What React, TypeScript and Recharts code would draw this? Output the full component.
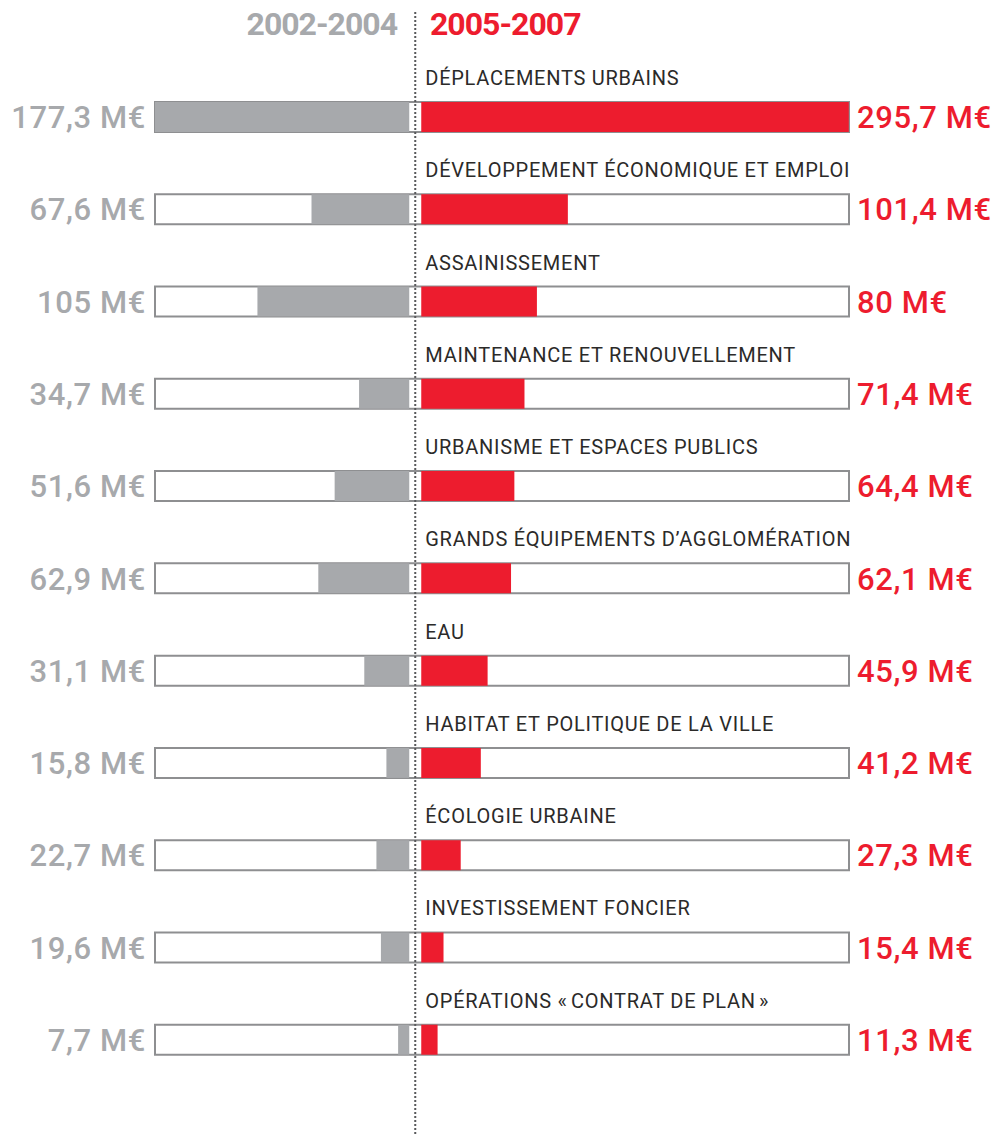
import { Bar, BarChart, LabelList, ReferenceLine, XAxis, YAxis } from "recharts";

const categories = [
  "DÉPLACEMENTS URBAINS",
  "DÉVELOPPEMENT ÉCONOMIQUE ET EMPLOI",
  "ASSAINISSEMENT",
  "MAINTENANCE ET RENOUVELLEMENT",
  "URBANISME ET ESPACES PUBLICS",
  "GRANDS ÉQUIPEMENTS D’AGGLOMÉRATION",
  "EAU",
  "HABITAT ET POLITIQUE DE LA VILLE",
  "ÉCOLOGIE URBAINE",
  "INVESTISSEMENT FONCIER",
  "OPÉRATIONS «\u202fCONTRAT DE PLAN\u202f»"
];

const values0204 = [177.3, 67.6, 105, 34.7, 51.6, 62.9, 31.1, 15.8, 22.7, 19.6, 7.7];
const values0507 = [295.7, 101.4, 80, 71.4, 64.4, 62.1, 45.9, 41.2, 27.3, 15.4, 11.3];

const periods = ["2002-2004", "2005-2007"];

const GREY = "#a7a9ac";
const RED = "#ed1c2e";
const FRAME = "#8e8f91";
const FONT = "Roboto, 'Noto Sans', sans-serif";

// half of the white gap around the dotted centre line, in axis units
const GAP = 4.15;

const data = categories.map((name, i) => ({
  name,
  leftGap: -GAP,
  before: -values0204[i],
  rightGap: GAP,
  after: values0507[i]
}));

const money = (v: number) => `${String(v).replace(".", ",")} M€`;

function CategoryLabel(props: any) {
  const { x, y, value } = props;
  return (
    <text
      x={x + 10}
      y={y - 17}
      fill="#2b2a29"
      fontSize={20}
      fontFamily={FONT}
      letterSpacing={0.75}
    >
      {value}
    </text>
  );
}

const header = {
  position: "absolute" as const,
  top: 8,
  fontFamily: FONT,
  fontWeight: 700,
  fontSize: 32,
  lineHeight: 1,
  letterSpacing: -1
};

export default function App() {
  return (
    <div style={{ position: "absolute", left: 0, top: 0, width: 994, height: 1136, background: "#fff" }}>
      <div style={{ ...header, right: 994 - 397, color: GREY }}>{periods[0]}</div>
      <div style={{ ...header, left: 430, color: RED }}>{periods[1]}</div>
      <BarChart
        width={994}
        height={1136}
        data={data}
        layout="vertical"
        stackOffset="sign"
        barSize={30}
        margin={{ top: 71, right: 0, left: 0, bottom: 50 }}
        style={{ position: "absolute", left: 0, top: 0 }}
      >
        <XAxis type="number" domain={[-180, 300]} allowDataOverflow hide />
        <YAxis
          yAxisId="left"
          type="category"
          dataKey="name"
          width={155}
          axisLine={false}
          tickLine={false}
          tickSize={0}
          tickMargin={9}
          interval={0}
          tickFormatter={(_v: string, i: number) => money(values0204[i])}
          tick={{ fill: GREY, fontSize: 31, fontWeight: 500, fontFamily: FONT, letterSpacing: 0.6 }}
        />
        <YAxis
          yAxisId="right"
          orientation="right"
          type="category"
          dataKey="name"
          width={145}
          axisLine={false}
          tickLine={false}
          tickSize={0}
          tickMargin={8}
          interval={0}
          tickFormatter={(_v: string, i: number) => money(values0507[i])}
          tick={{ fill: RED, fontSize: 31, fontWeight: 500, fontFamily: FONT, letterSpacing: 0.6 }}
        />
        <Bar
          yAxisId="left"
          dataKey="leftGap"
          stackId="s"
          fill="transparent"
          background={{ fill: "#fff", stroke: FRAME, strokeWidth: 2 }}
          isAnimationActive={false}
        />
        <Bar yAxisId="left" dataKey="before" stackId="s" fill={GREY} isAnimationActive={false} />
        <Bar yAxisId="left" dataKey="rightGap" stackId="s" fill="transparent" isAnimationActive={false}>
          <LabelList dataKey="name" content={CategoryLabel} />
        </Bar>
        <Bar yAxisId="left" dataKey="after" stackId="s" fill={RED} isAnimationActive={false} />
        <ReferenceLine
          yAxisId="left"
          x={0}
          ifOverflow="visible"
          shape={(p: any) => (
            <line x1={p.x1} x2={p.x2} y1={12} y2={1136} stroke="#58595b" strokeWidth={2} strokeDasharray="2 2" />
          )}
        />
      </BarChart>
    </div>
  );
}
